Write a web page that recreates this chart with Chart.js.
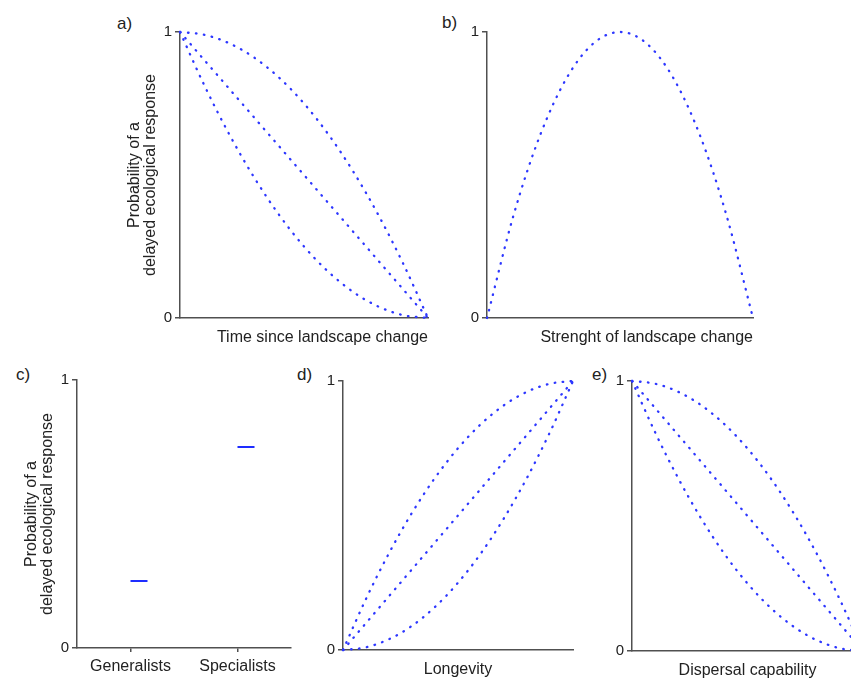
<!DOCTYPE html>
<html>
<head>
<meta charset="utf-8">
<script src="https://cdn.jsdelivr.net/npm/chart.js@4"></script>
<style>
html,body{margin:0;padding:0;background:#fff;}
#wrap{position:relative;width:851px;height:680px;overflow:hidden;background:#fff;}
#wrap canvas{position:absolute;}
.lab{position:absolute;font-family:"Liberation Sans",Arial,sans-serif;font-size:17px;line-height:17px;color:#222;}
</style>
</head>
<body>
<div id="wrap">
  <div class="lab" style="left:117px;top:15px">a)</div>
  <div class="lab" style="left:442px;top:14px">b)</div>
  <div class="lab" style="left:16px;top:366px">c)</div>
  <div class="lab" style="left:297px;top:366px">d)</div>
  <div class="lab" style="left:592px;top:366px">e)</div>
</div>
<script>
// ---------- data ----------
const xs = [0, 0.1, 0.2, 0.3, 0.4, 0.5, 0.6, 0.7, 0.8, 0.9, 1];

// a) Time since landscape change
const aUpper  = [1, 0.99, 0.96, 0.91, 0.84, 0.75, 0.64, 0.51, 0.36, 0.19, 0];
const aMiddle = [1, 0.90, 0.80, 0.70, 0.60, 0.50, 0.40, 0.30, 0.20, 0.10, 0];
const aLower  = [1, 0.81, 0.64, 0.49, 0.36, 0.25, 0.16, 0.09, 0.04, 0.01, 0];

// b) Strenght of landscape change
const bCurve  = [0, 0.36, 0.64, 0.84, 0.96, 1, 0.96, 0.84, 0.64, 0.36, 0];

// c) Generalists / Specialists
const cCategories = ['Generalists', 'Specialists'];
const cValues = [0.25, 0.75];

// d) Longevity
const dUpper  = [0, 0.19, 0.36, 0.51, 0.64, 0.75, 0.84, 0.91, 0.96, 0.99, 1];
const dMiddle = [0, 0.10, 0.20, 0.30, 0.40, 0.50, 0.60, 0.70, 0.80, 0.90, 1];
const dLower  = [0, 0.01, 0.04, 0.09, 0.16, 0.25, 0.36, 0.49, 0.64, 0.81, 1];

// e) Dispersal capability
const eUpper  = [1, 0.99, 0.96, 0.91, 0.84, 0.75, 0.64, 0.51, 0.36, 0.19, 0];
const eMiddle = [1, 0.90, 0.80, 0.70, 0.60, 0.50, 0.40, 0.30, 0.20, 0.10, 0];
const eLower  = [1, 0.81, 0.64, 0.49, 0.36, 0.25, 0.16, 0.09, 0.04, 0.01, 0];

const yTickValues = [0, 1];
const yTitle = ['Probability of a', 'delayed ecological response'];

// ---------- style ----------
const FONT = "'Liberation Sans', Arial, sans-serif";
const AXIS = '#505050';
const TEXT = '#222222';
const DOT = 'rgb(45,55,255)';
const BAR = 'rgb(30,45,255)';

const Y_W = 60, X_H = 40, PAD_T = 14, PAD_R = 10;

function makeCanvas(area) {
  const c = document.createElement('canvas');
  c.width = area.w + Y_W + PAD_R;
  c.height = area.h + PAD_T + X_H;
  c.style.left = (area.l - Y_W) + 'px';
  c.style.top = (area.t - PAD_T) + 'px';
  c.style.width = c.width + 'px';
  c.style.height = c.height + 'px';
  document.getElementById('wrap').appendChild(c);
  return c;
}

function yScale(withTitle) {
  return {
    type: 'linear', min: 0, max: 1,
    afterFit(s) { s.width = Y_W; },
    afterBuildTicks(s) { s.ticks = yTickValues.map(v => ({ value: v })); },
    grid: { display: true, drawOnChartArea: false, drawTicks: true, tickLength: 5, color: AXIS, lineWidth: 1.5 },
    border: { display: true, color: AXIS, width: 1.5 },
    ticks: { padding: 3, color: TEXT, font: { family: FONT, size: 15 } },
    title: withTitle ? {
      display: true, text: yTitle, color: TEXT,
      font: { family: FONT, size: 16, lineHeight: 1 },
      padding: { top: 7, bottom: 0 }
    } : { display: false }
  };
}

function xScale(title, align) {
  return {
    type: 'linear', min: 0, max: 1,
    afterFit(s) { s.height = X_H; },
    grid: { display: false },
    border: { display: true, color: AXIS, width: 1.5 },
    ticks: { display: false },
    title: {
      display: true, text: title, align: align, color: TEXT,
      font: { family: FONT, size: 16, lineHeight: 1.2 },
      padding: { top: 0, bottom: 10.5 }
    }
  };
}

function dotted(vals) {
  return {
    data: xs.map((x, i) => ({ x: x, y: vals[i] })),
    borderColor: DOT, borderWidth: 2.3, borderDash: [0.6, 7.4], borderCapStyle: 'round',
    pointRadius: 0, fill: false,
    cubicInterpolationMode: 'monotone', clip: false
  };
}

function baseOptions(scales) {
  return {
    responsive: false, animation: false, events: [],
    layout: { autoPadding: false, padding: { left: 0, top: PAD_T, right: PAD_R, bottom: 0 } },
    plugins: { legend: { display: false }, tooltip: { enabled: false }, title: { display: false } },
    scales: scales
  };
}

function curvePanel(area, series, xTitle, align, withYTitle) {
  const c = makeCanvas(area);
  new Chart(c, {
    type: 'line',
    data: { datasets: series.map(dotted) },
    options: baseOptions({ x: xScale(xTitle, align), y: yScale(withYTitle) })
  });
}

// panels (plot area boxes)
curvePanel({ l: 180, t: 32, w: 248, h: 286 }, [aUpper, aMiddle, aLower], 'Time since landscape change', 'end', true);
curvePanel({ l: 487, t: 32, w: 266, h: 286 }, [bCurve], 'Strenght of landscape change', 'end', false);
curvePanel({ l: 343, t: 381, w: 230, h: 269 }, [dUpper, dMiddle, dLower], 'Longevity', 'center', false);
curvePanel({ l: 632, t: 381, w: 231, h: 270 }, [eUpper, eMiddle, eLower], 'Dispersal capability', 'center', false);

// panel c
(function () {
  const c = makeCanvas({ l: 77, t: 380, w: 214, h: 268 });
  new Chart(c, {
    type: 'line',
    data: {
      labels: cCategories,
      datasets: [{
        data: cValues, showLine: false,
        pointStyle: 'dash', pointRadius: 17, pointBorderWidth: 2.2,
        pointBorderColor: BAR, pointBackgroundColor: BAR, borderColor: BAR
      }]
    },
    options: baseOptions({
      x: {
        type: 'category', offset: true,
        afterFit(s) { s.height = X_H; },
        grid: { display: true, drawOnChartArea: false, drawTicks: true, tickLength: 4, color: AXIS, lineWidth: 1.5, offset: false },
        border: { display: true, color: AXIS, width: 1.5 },
        ticks: { padding: 5, color: TEXT, font: { family: FONT, size: 16 }, maxRotation: 0 }
      },
      y: yScale(true)
    })
  });
})();
</script>
</body>
</html>
